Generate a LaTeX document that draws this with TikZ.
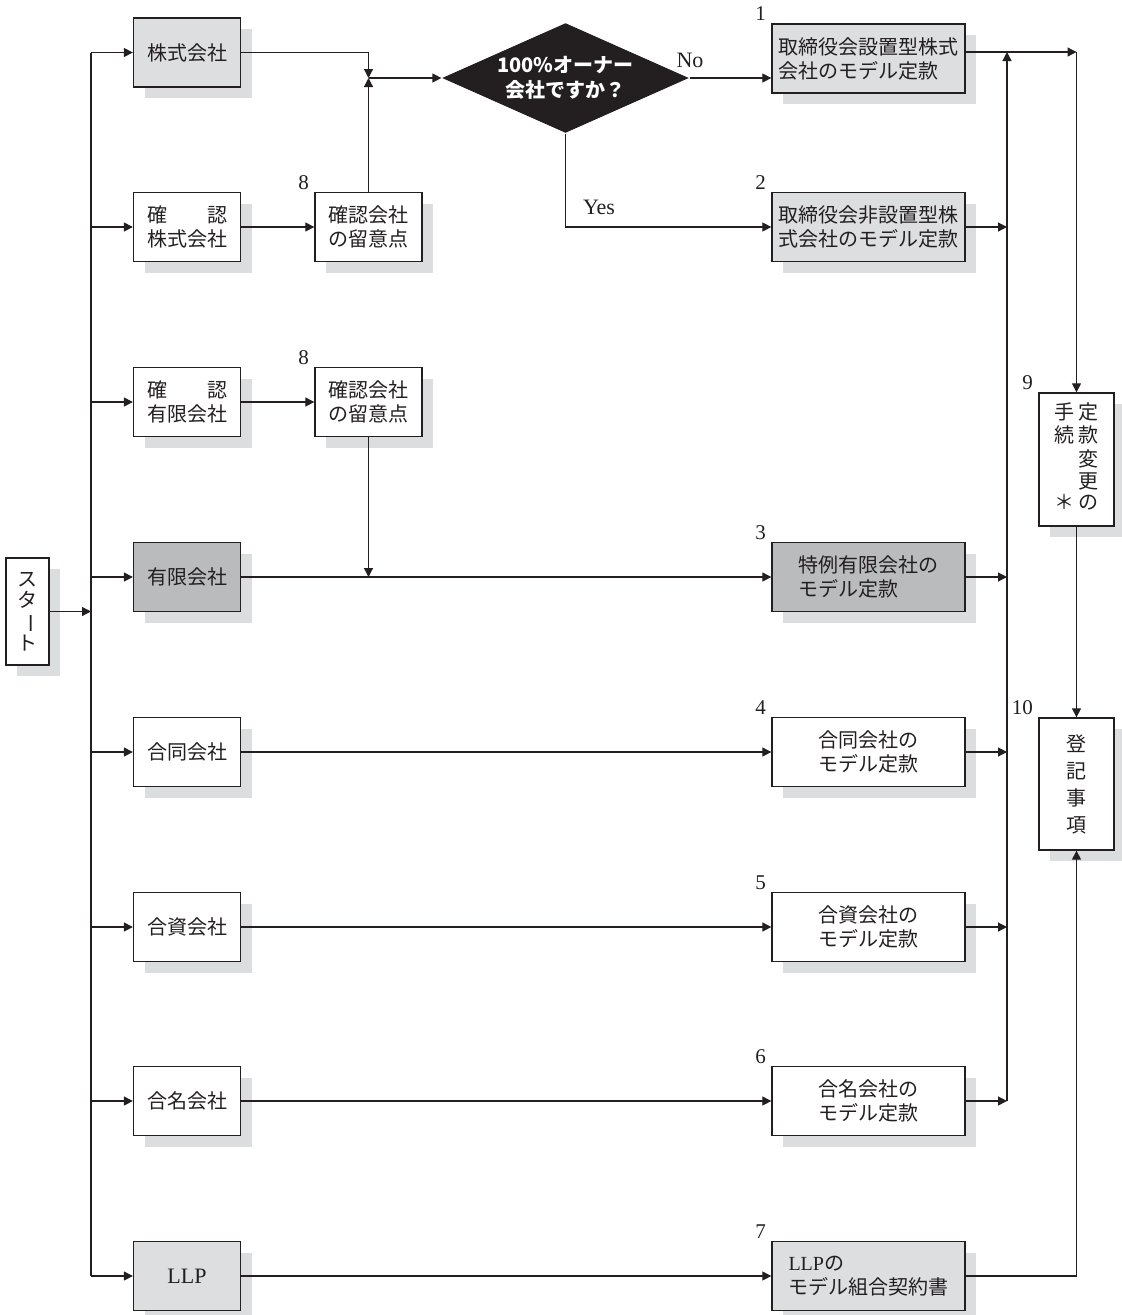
\documentclass[tikz,border=0pt]{standalone}
\usepackage{fontspec}
\usepackage{graphicx}
\usetikzlibrary{arrows.meta,shapes.geometric,shadows}
\newfontfamily\jpfont{Noto Sans CJK JP}
\newfontfamily\latinfont{Liberation Serif}
\definecolor{inkcol}{RGB}{35,31,32}
\definecolor{kabugray}{RGB}{221,222,224}
\definecolor{yugengray}{RGB}{186,187,189}
\definecolor{shadegray}{RGB}{220,221,223}
\begin{document}
\begin{tikzpicture}[x=1pt,y=-1pt,line width=1.2pt,color=inkcol,
	box/.style={draw=inkcol,fill=white,line width=1.3pt,inner sep=0pt,
		font=\jpfont\fontsize{20}{24}\selectfont,
		drop shadow={shadow xshift=11pt,shadow yshift=-11pt,fill=shadegray,opacity=1}},
	lbox/.style={box,minimum width=107pt,minimum height=69pt,align=center},
	rbox/.style={box,minimum width=193pt,minimum height=69pt,align=left},
	num/.style={font=\latinfont\fontsize{21}{21}\selectfont,inner sep=2pt,anchor=south east,xshift=-3pt},
	txt/.style={font=\latinfont\fontsize{22}{22}\selectfont,inner sep=0pt},
	arr/.style={-{Triangle[length=9pt,width=9pt]}}]
	\useasboundingbox (0,0) rectangle (1122,1315);
	% スタート
	\node[box,minimum width=43pt,minimum height=107pt,align=center,
		font=\jpfont\fontsize{20}{21}\selectfont] (start) at (27.5,611.5)
		{ス\\タ\\\rotatebox[origin=c]{-90}{ー}\\ト};
	% 左の列
	\node[lbox,fill=kabugray] (kabu) at (187,52.5) {株式会社};
	\node[lbox] (kakkabu) at (187,227) {\makebox[4em]{確\hfill 認}\\株式会社};
	\node[lbox] (kakyu) at (187,402) {\makebox[4em]{確\hfill 認}\\有限会社};
	\node[lbox,fill=yugengray] (yugen) at (187,577) {有限会社};
	\node[lbox] (godo) at (187,752) {合同会社};
	\node[lbox] (goshi) at (187,927) {合資会社};
	\node[lbox] (gomei) at (187,1101) {合名会社};
	\node[lbox,fill=kabugray] (llp) at (187,1276) {\latinfont\fontsize{22}{24}\selectfont LLP};
	% 確認会社の留意点
	\node[lbox] (chk1) at (368.5,227) {確認会社\\の留意点};
	\node[lbox] (chk2) at (368.5,402) {確認会社\\の留意点};
	\node[num] (n8a) at (chk1.north west) {8};
	\node[num] (n8b) at (chk2.north west) {8};
	% 判定
	\node[diamond,fill=inkcol,text=white,minimum width=247pt,minimum height=110pt,
		inner sep=0pt,aspect=2.2,align=center,
		font=\jpfont\bfseries\fontsize{20}{25}\selectfont] (dia) at (565.5,78)
		{100\%オーナー\\会社ですか？};
	\node[txt] (lno) at (690,60) {No};
	\node[txt] (lyes) at (599,207) {Yes};
	% モデル定款
	\node[rbox,fill=kabugray] (b1) at (868.5,58.5) {取締役会設置型株式\\会社のモデル定款};
	\node[rbox,fill=kabugray] (b2) at (868.5,227) {取締役会非設置型株\\式会社のモデル定款};
	\node[rbox,fill=yugengray] (b3) at (868.5,577) {特例有限会社の\\モデル定款};
	\node[rbox] (b4) at (868.5,752) {合同会社の\\モデル定款};
	\node[rbox] (b5) at (868.5,927) {合資会社の\\モデル定款};
	\node[rbox] (b6) at (868.5,1101) {合名会社の\\モデル定款};
	\node[rbox,fill=kabugray] (b7) at (868.5,1276) {{\latinfont LLP}の\\モデル組合契約書};
	\foreach \b/\t in {b1/1,b2/2,b3/3,b4/4,b5/5,b6/6,b7/7}
	\node[num] (n\t) at (\b.north west) {\t};
	% 定款変更の手続・登記事項
	\node[box,minimum width=75pt,minimum height=133pt,
		font=\jpfont\fontsize{20}{21}\selectfont] (b9) at (1076.5,459.5)
		{\begin{tabular}{@{}c@{\hspace{4pt}}c@{}}手&定\\続&款\\&変\\&更\\＊&の\end{tabular}};
	\node[box,minimum width=75pt,minimum height=132pt,align=center,
		font=\jpfont\fontsize{20}{27}\selectfont] (b10) at (1076.5,784) {登\\記\\事\\項};
	\node[num] (n9) at (b9.north west) {9};
	\node[num] (n10) at (b10.north west) {10};
	% 幹線
	\coordinate (ttop) at (91,52.5);
	\coordinate (tbot) at (91,1276);
	\draw (ttop) -- (tbot);
	\draw[arr] (start.east) -- (start.east -| ttop);
	\foreach \n in {kabu,kakkabu,kakyu,yugen,godo,goshi,gomei,llp}
	\draw[arr] (\n.west -| ttop) -- (\n.west);
	% 株式会社から判定へ
	\coordinate (jn) at (368.5,78);
	\draw[arr] (kabu.east) -| (jn);
	\draw[arr] (chk1.north) -- (jn);
	\draw[arr] (jn) -- (dia.west);
	\draw[arr] (kakkabu.east) -- (chk1.west);
	\draw[arr] (kakyu.east) -- (chk2.west);
	\draw[arr] (chk2.south) -- (chk2.south |- yugen.east);
	\draw[arr] (yugen.east) -- (b3.west);
	\draw[arr] (dia.east) -- (dia.east -| b1.west);
	\draw[arr] (dia.south) |- (b2.west);
	\foreach \a/\b in {godo/b4,goshi/b5,gomei/b6,llp/b7}
	\draw[arr] (\a.east) -- (\a.east -| \b.west);
	% 右の集線
	\coordinate (ctop) at (1007,52);
	\coordinate (cbot) at (1007,1101);
	\draw[arr] (cbot) -- (ctop);
	\foreach \n in {b2,b3,b4,b5,b6}
	\draw[arr] (\n.east) -- (\n.east -| ctop);
	\coordinate (corner) at (1076.5,52);
	\draw[arr] (b1.east |- corner) -- (corner);
	\draw[arr] (corner) -- (b9.north);
	\draw[arr] (b9.south) -- (b10.north);
	\draw[arr] (b7.east) -| (b10.south);
\end{tikzpicture}
\end{document}
